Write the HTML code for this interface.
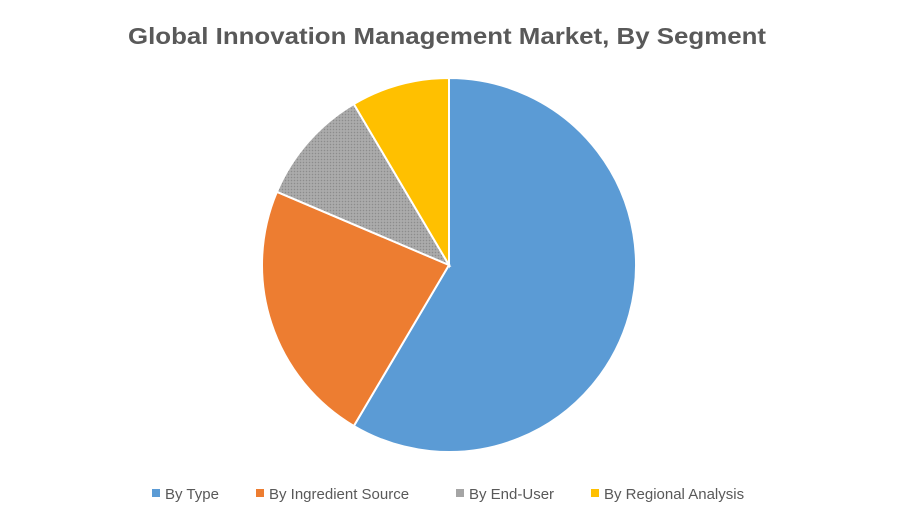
<!DOCTYPE html>
<html><head><meta charset="utf-8"><style>
body{margin:0;background:#fff;}
svg{display:block;font-family:"Liberation Sans",sans-serif;}
</style></head><body>
<svg id="chart" width="900" height="525" viewBox="0 0 900 525">
<defs>
<pattern id="dots" width="3" height="3" patternUnits="userSpaceOnUse">
<rect width="3" height="3" fill="#a5a5a5"/><rect width="1" height="1" fill="#8c8c8c"/><rect x="1.5" y="1.5" width="1" height="1" fill="#bdbdbd"/>
</pattern>
</defs>
<text x="447" y="44" text-anchor="middle" font-size="23" font-weight="bold" fill="#595959" textLength="638" lengthAdjust="spacingAndGlyphs">Global Innovation Management Market, By Segment</text>
<g id="slices"></g>
<g id="legend"></g>
</svg>
<script>
const categories = ["By Type","By Ingredient Source","By End-User","By Regional Analysis"];
const values = [58.5, 22.9, 10.1, 8.5];
const colors = ["#5b9bd5","#ed7d31","url(#dots)","#ffc000"];
const legendColors = ["#5b9bd5","#ed7d31","#a5a5a5","#ffc000"];
const cx=449, cy=265, r=187;
const ns="http://www.w3.org/2000/svg";
const total=values.reduce((a,b)=>a+b,0);
let a0=0;
const g=document.getElementById('slices');
values.forEach((v,i)=>{
  const a1=a0+v/total*2*Math.PI;
  const x0=cx+r*Math.sin(a0), y0=cy-r*Math.cos(a0);
  const x1=cx+r*Math.sin(a1), y1=cy-r*Math.cos(a1);
  const large=(a1-a0)>Math.PI?1:0;
  const p=document.createElementNS(ns,'path');
  p.setAttribute('d',`M${cx},${cy}L${x0},${y0}A${r},${r} 0 ${large} 1 ${x1},${y1}Z`);
  p.setAttribute('fill',colors[i]);
  p.setAttribute('stroke','#fff');
  p.setAttribute('stroke-width','2');
  
  
  g.appendChild(p);
  a0=a1;
});
const lg=document.getElementById('legend');
const lx=[152,256,456,591];
categories.forEach((c,i)=>{
  const e=document.createElementNS(ns,'g');
  
  
  const s=document.createElementNS(ns,'rect');
  s.setAttribute('x',lx[i]);s.setAttribute('y',489);s.setAttribute('width',8);s.setAttribute('height',8);
  s.setAttribute('fill',legendColors[i]);
  
  
  const t=document.createElementNS(ns,'text');
  t.setAttribute('x',lx[i]+13);t.setAttribute('y',499);
  t.setAttribute('font-size','15');t.setAttribute('fill','#595959');
  
  
  t.textContent=c;
  e.appendChild(s);e.appendChild(t);lg.appendChild(e);
});
</script>
</body></html>
